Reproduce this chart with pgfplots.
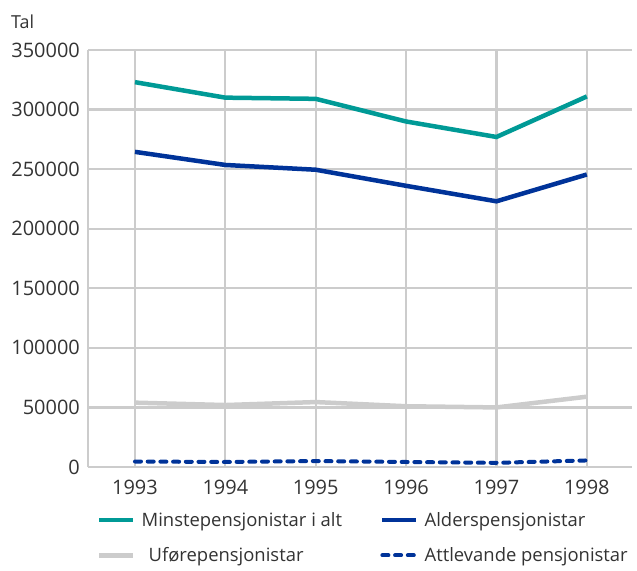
\documentclass[border=0pt]{standalone}
\usepackage{pgfplots}
\pgfplotsset{compat=1.18}
\usepackage{fontspec}
\setmainfont{Open Sans}
\definecolor{teal1}{HTML}{009A96}
\definecolor{blue1}{HTML}{003399}
\definecolor{grid1}{HTML}{CCCCCC}
\definecolor{txt}{HTML}{333333}
\begin{document}
\begin{tikzpicture}
\useasboundingbox (0,0) rectangle (637bp,571bp);
\begin{axis}[
  at={(88bp,104bp)}, anchor=south west,
  scale only axis, width=544bp, height=417bp,
  xmin=1992.48, xmax=1998.5, ymin=0, ymax=350000,
  xtick={1993,1994,1995,1996,1997,1998},
  xticklabels={1993,1994,1995,1996,1997,1998},
  ytick={0,50000,100000,150000,200000,250000,300000,350000},
  yticklabels={0,50000,100000,150000,200000,250000,300000,350000},
  axis x line*=bottom, axis y line*=left,
  axis line style={grid1, line width=2.2bp, -},
  grid=major, grid style={grid1, line width=2.2bp},
  major tick length=0pt,
  scaled y ticks=false,
  tick label style={font=\fontsize{20}{22}\selectfont, text=txt},
  yticklabel style={inner sep=0pt, xshift=-8bp},
  xticklabel style={inner sep=0pt, yshift=-13bp},
  legend style={at={(0.011,-0.098)}, anchor=north west, draw=none, fill=none,
    font=\fontsize{18.5}{21}\selectfont, text=txt, row sep=16bp,
    /tikz/every even column/.append style={column sep=36bp}},
  legend columns=2, legend cell align=left,
  legend image code/.code={\draw[#1] (0bp,0bp) -- (34bp,0bp); \path (38bp,0bp);},
]
\addplot[teal1, line width=4.5bp] coordinates {(1993,323000) (1994,310000) (1995,309000) (1996,290000) (1997,277000) (1998,311000)};
\addlegendentry{Minstepensjonistar i alt}
\addplot[blue1, line width=4.5bp] coordinates {(1993,264500) (1994,253500) (1995,249500) (1996,236000) (1997,223000) (1998,245500)};
\addlegendentry{Alderspensjonistar}
\addplot[grid1, line width=4.5bp] coordinates {(1993,54000) (1994,52000) (1995,54500) (1996,51000) (1997,50000) (1998,59000)};
\addlegendentry{\hspace{7bp}Uførepensjonistar}
\addplot[blue1, line width=4bp, line cap=round, dash pattern=on 6bp off 6.7bp] coordinates {(1993,4600) (1994,4200) (1995,5000) (1996,4200) (1997,3500) (1998,5500)};
\addlegendentry{Attlevande pensjonistar}
\end{axis}
\node[anchor=base west, inner sep=0pt, text=txt, font=\fontsize{18}{20}\selectfont] at (11bp,542bp) {Tal};
\end{tikzpicture}
\end{document}
